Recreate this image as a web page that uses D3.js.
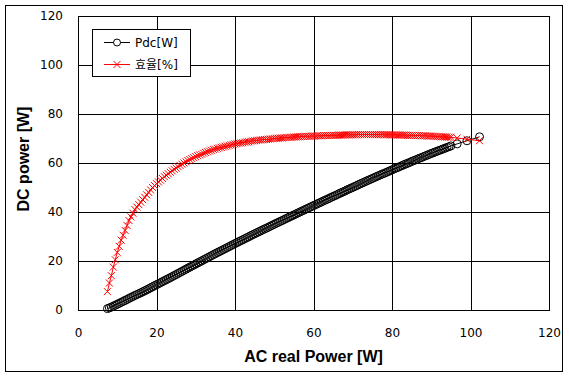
<!DOCTYPE html>
<html><head><meta charset="utf-8">
<script src="https://cdn.jsdelivr.net/npm/d3@7"></script>
<style>body{margin:0;background:#fff}</style>
</head><body><svg id="c" width="569" height="380"></svg>
<script>
const acPower = [7.5,8,8.5,9,9.5,10,10.5,11,11.5,12,12.5,13,13.5,14,14.5,15,15.5,16,16.5,17,17.5,18,18.5,19,19.5,20,
20.5,21,21.5,22,22.5,23,23.5,24,24.5,25,25.5,26,26.5,27,27.5,28,28.5,29,29.5,30,
30.5,31,31.5,32,32.5,33,33.5,34,34.5,35,35.5,36,36.5,37,37.5,38,38.5,39,39.5,40,
40.5,41,41.5,42,42.5,43,43.5,44,44.5,45,45.5,46,46.5,47,47.5,48,48.5,49,49.5,50,
50.5,51,51.5,52,52.5,53,53.5,54,54.5,55,55.5,56,56.5,57,57.5,58,58.5,59,59.5,60,
60.5,61,61.5,62,62.5,63,63.5,64,64.5,65,65.5,66,66.5,67,67.5,68,68.5,69,69.5,70,
70.5,71,71.5,72,72.5,73,73.5,74,74.5,75,75.5,76,76.5,77,77.5,78,78.5,79,79.5,80,
80.5,81,81.5,82,82.5,83,83.5,84,84.5,85,85.5,86,86.5,87,87.5,88,88.5,89,89.5,90,
90.5,91,91.5,92,92.5,93,93.5,94,94.5,95,96.6,99.1,102.3];
const pdc = [0.56,0.88,1.19,1.58,1.95,2.35,2.73,3.14,3.51,3.90,4.31,4.75,5.13,5.53,5.95,6.30,6.67,7.04,7.43,7.82,8.23,8.64,9.07,9.50,9.91,10.32,
10.72,11.13,11.55,11.97,12.38,12.79,13.21,13.63,14.06,14.48,14.92,15.34,15.77,16.20,16.64,17.08,17.50,17.92,18.35,18.78,
19.22,19.62,20.03,20.48,20.90,21.32,21.74,22.17,22.60,23.00,23.43,23.83,24.24,24.64,25.05,25.46,25.87,26.29,26.70,27.12,
27.50,27.92,28.30,28.69,29.11,29.50,29.88,30.32,30.71,31.10,31.49,31.88,32.27,32.67,33.06,33.41,33.80,34.20,34.60,35.00,
35.40,35.75,36.15,36.50,36.91,37.31,37.66,38.07,38.42,38.83,39.18,39.59,39.95,40.36,40.71,41.12,41.48,41.83,42.25,42.60,
42.96,43.37,43.73,44.08,44.50,44.86,45.21,45.57,45.99,46.35,46.70,47.06,47.48,47.84,48.20,48.55,48.98,49.34,49.69,50.05,
50.41,50.77,51.19,51.55,51.91,52.27,52.63,52.98,53.34,53.70,54.06,54.42,54.77,55.13,55.49,55.77,56.13,56.49,56.84,57.20,
57.56,57.92,58.19,58.55,58.91,59.26,59.62,59.89,60.25,60.61,60.96,61.23,61.59,61.94,62.21,62.57,62.92,63.19,63.55,63.90,
64.16,64.52,64.78,65.14,65.40,65.75,66.01,66.36,66.62,66.98,67.81,69.07,70.69];
const efficiency = [7.5,11,14,17.5,20.5,23.5,26,28.5,30.5,32.5,34.5,36.5,38,39.5,41,42,43,44,45,46,47,48,49,50,50.8,51.6,
52.3,53,53.7,54.4,55,55.6,56.2,56.8,57.4,57.9,58.5,59,59.5,60,60.5,61,61.4,61.8,62.2,62.6,
63,63.3,63.6,64,64.3,64.6,64.9,65.2,65.5,65.7,66,66.2,66.4,66.6,66.8,67,67.2,67.4,67.6,67.8,
67.9,68.1,68.2,68.3,68.5,68.6,68.7,68.9,69,69.1,69.2,69.3,69.4,69.5,69.6,69.6,69.7,69.8,69.9,70,
70.1,70.1,70.2,70.2,70.3,70.4,70.4,70.5,70.5,70.6,70.6,70.7,70.7,70.8,70.8,70.9,70.9,70.9,71,71,
71,71.1,71.1,71.1,71.2,71.2,71.2,71.2,71.3,71.3,71.3,71.3,71.4,71.4,71.4,71.4,71.5,71.5,71.5,71.5,
71.5,71.5,71.6,71.6,71.6,71.6,71.6,71.6,71.6,71.6,71.6,71.6,71.6,71.6,71.6,71.5,71.5,71.5,71.5,71.5,
71.5,71.5,71.4,71.4,71.4,71.4,71.4,71.3,71.3,71.3,71.3,71.2,71.2,71.2,71.1,71.1,71.1,71,71,71,
70.9,70.9,70.8,70.8,70.7,70.7,70.6,70.6,70.5,70.5,70.2,69.7,69.1];
const xTicks = [0,20,40,60,80,100,120];
const yTicks = [0,20,40,60,80,100,120];
const seriesNames = ["Pdc[W]","효율[%]"];
const xTitle = "AC real Power [W]";
const yTitle = "DC power [W]";

const svg = d3.select("#c");
const L=78,R=549,T=16,B=310;
const x = d3.scaleLinear().domain([0,120]).range([L,R]);
const y = d3.scaleLinear().domain([0,120]).range([B,T]);
const tickFont = "'DejaVu Sans', Tahoma, sans-serif";
const titleFont = "'Liberation Sans', Arial, sans-serif";

svg.append("rect").attr("x",5.5).attr("y",5.5).attr("width",557).attr("height",366)
  .attr("fill","#fff").attr("stroke","#000").attr("stroke-width",1);

// grid
const g = svg.append("g").attr("shape-rendering","crispEdges");
xTicks.forEach(t=>{
  g.append("line").attr("x1",Math.round(x(t))+0.5).attr("x2",Math.round(x(t))+0.5)
   .attr("y1",T).attr("y2",B).attr("stroke","#000");
});
yTicks.forEach(t=>{
  g.append("line").attr("y1",Math.round(y(t))+0.5).attr("y2",Math.round(y(t))+0.5)
   .attr("x1",L).attr("x2",R).attr("stroke","#000");
});
g.append("rect").attr("x",L+0.5).attr("y",T+0.5).attr("width",R-L).attr("height",B-T)
  .attr("fill","none").attr("stroke","#000");

// axes (labels only)
const xa = svg.append("g").attr("transform",`translate(0,${B})`)
  .call(d3.axisBottom(x).tickValues(xTicks).tickSize(0).tickPadding(18));
xa.select(".domain").remove();
xa.selectAll("text").attr("font-family",tickFont).attr("font-size",12).attr("fill","#000");
const ya = svg.append("g").attr("transform",`translate(${L},0)`)
  .call(d3.axisLeft(y).tickValues(yTicks).tickSize(0).tickPadding(15));
ya.select(".domain").remove();
ya.selectAll("text").attr("font-family",tickFont).attr("font-size",12).attr("fill","#000");

svg.append("text").attr("x",(L+R)/2).attr("y",362).attr("text-anchor","middle")
  .attr("font-family",titleFont).attr("font-weight","bold").attr("font-size",16).text(xTitle);
svg.append("text").attr("transform",`translate(29,${(T+B)/2-4}) rotate(-90)`).attr("text-anchor","middle")
  .attr("font-family",titleFont).attr("font-weight","bold").attr("font-size",16).text(yTitle);

const data = acPower.map((a,i)=>({a, p:pdc[i], e:efficiency[i]}));

// Pdc series
svg.append("path").datum(data).attr("fill","none").attr("stroke","#000").attr("stroke-width",1)
  .attr("d",d3.line().x(d=>x(d.a)).y(d=>y(d.p)));
svg.append("g").selectAll("circle").data(data).join("circle")
  .attr("cx",d=>x(d.a)).attr("cy",d=>y(d.p)).attr("r",4)
  .attr("fill","none").attr("stroke","#000").attr("stroke-width",1);

// efficiency series
svg.append("path").datum(data).attr("fill","none").attr("stroke","#f00").attr("stroke-width",1)
  .attr("d",d3.line().x(d=>x(d.a)).y(d=>y(d.e)));
const cross = (sel)=>sel.attr("d","M-3.5,-3.5L3.5,3.5M-3.5,3.5L3.5,-3.5").attr("stroke","#f00").attr("stroke-width",1).attr("fill","none");
svg.append("g").selectAll("path").data(data).join("path")
  .attr("transform",d=>`translate(${x(d.a)},${y(d.e)})`).call(cross);

// legend
const lg = svg.append("g");
lg.append("rect").attr("x",92.5).attr("y",29.5).attr("width",98).attr("height",47)
  .attr("fill","#fff").attr("stroke","#000").attr("shape-rendering","crispEdges");
lg.append("line").attr("x1",104).attr("x2",130).attr("y1",42.5).attr("y2",42.5).attr("stroke","#000");
lg.append("circle").attr("cx",117).attr("cy",42.5).attr("r",3.5).attr("fill","#fff").attr("stroke","#000");
lg.append("text").attr("x",135).attr("y",47).attr("font-family",tickFont).attr("font-size",12).text(seriesNames[0]);
lg.append("line").attr("x1",104).attr("x2",130).attr("y1",64.5).attr("y2",64.5).attr("stroke","#f00");
lg.append("path").attr("transform","translate(117,64.5)").call(cross);
lg.append("text").attr("x",135).attr("y",69).attr("font-family","'DejaVu Sans','Noto Sans CJK KR',sans-serif").attr("font-size",12).text(seriesNames[1]);
</script></body></html>
